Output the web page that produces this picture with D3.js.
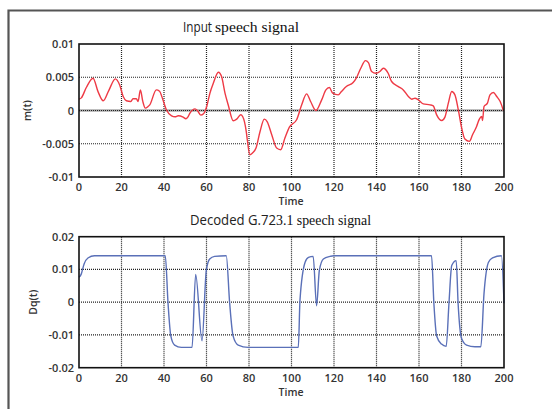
<!DOCTYPE html>
<html>
<head>
<meta charset="utf-8">
<script src="https://cdn.jsdelivr.net/npm/d3@7"></script>
<style>
  body { margin: 0; background: #fff; }
  svg { display: block; }
  .tick-label { font-family: "Open Sans", sans-serif; font-size: 11px; font-weight: 600; fill: #333; }
  .axis-title { font-family: "Open Sans", sans-serif; font-size: 10.5px; font-weight: 600; fill: #333; }
</style>
</head>
<body>
<div id="chart"></div>
<script>
// values (signal values in units of 1e-3)
const inputTime = [0, 1.1, 3.5, 6.6, 9, 11.4, 14, 17.1, 19.1, 20.8, 22.3, 24.4, 25.4, 27, 27.8, 28.9, 30, 31.2, 32.5, 33.3,
  36.4, 37.9, 39.5, 41.1, 43.6, 45.2, 46.7, 49, 50.3, 51.2, 52.2, 54.6, 55.7, 57.3, 58.6, 60.1, 61.6, 63.2, 65.6, 67.1,
  68.7, 70.2, 72.6, 74.2, 76.1, 77, 78.7, 79.2, 80.4, 81.6, 83.3, 85.2, 87.2, 88.6, 90.7, 93, 94.9, 96.9, 99, 102.4,
  104.8, 107.1, 109, 111.5, 114.2, 116.2, 117.8, 119.4, 122, 123.5, 125.8, 129, 130.5, 132.6, 134.8, 136.2, 137.7, 139.7, 141.6, 143.2,
  145.5, 147.1, 150.3, 152.6, 155, 156.6, 158.1, 159.7, 162, 165.2, 166.7, 168.3, 170.7, 172.2, 173.8, 175.4, 176.9, 178.5, 180.1, 181.6,
  183.7, 185.2, 187.1, 188.4, 189.5, 189.9, 190.6, 192.2, 193.4, 195, 196.6, 198.2, 199.7]
const inputValue = [1.7, 1.9, 3.5, 4.86, 2.8, 1.46, 3.0, 4.76, 3.86, 2.1, 1.46, 1.36, 1.76, 1.76, 1.36, 3.1, 1.4, 0.36, 0.6, 0.85,
  3.1, 2.9, 1.6, 0.1, -0.8, -0.95, -0.8, -1.0, -1.25, -1.0, -0.4, 0.25, 0, -0.7, -0.5, 0.6, 2.6, 4.1, 5.76, 5.1,
  2.6, 0.86, -1.55, -1.3, -0.65, -0.9, -3.15, -4.4, -6.65, -6.4, -5.65, -3.15, -1.3, -1.7, -3.65, -5.65, -5.9, -4.15, -2.5, -1.4,
  0.86, 2.5, 1.35, 0, 1.6, 3.1, 3.45, 2.6, 2.35, 2.85, 3.6, 4.2, 4.86, 6.36, 7.5, 7.2, 5.86, 5.6, 5.86, 6.36,
  5.6, 4.36, 3.6, 3.1, 2.1, 1.7, 1.85, 1.6, 1.0, 0.85, 0.7, -0.65, -1.5, -1.0, 1.1, 2.85, 2.35, 0.1, -2.65, -4.3,
  -4.65, -3.65, -2.4, -1.3, -0.9, -1.5, 0.6, 1.1, 2.35, 2.7, 2.1, 1.35, 0]

const decodedTime = [0, 1, 2.4, 4.2, 7.3, 40.6, 41.9, 43.2, 45, 48.2, 53.2, 54.9, 57.9, 59.9, 61.5, 63.8, 69.3, 70.9, 72.5, 74.9,
  79.6, 103.2, 104, 106.4, 108, 110.2, 111.8, 113.1, 115, 118.2, 119.8, 165.9, 167, 168.3, 170.6, 172.8, 174.1, 175.4, 177.5, 178.4,
  180, 182.4, 186.3, 189.1, 190.6, 192.7, 194.6, 198.8, 200]
const decodedValue = [7.6, 8.5, 11.7, 13.5, 14.2, 14.2, -0.3, -10.3, -13.1, -13.8, -13.8, 8.5, -11.8, 9.7, 13.2, 14, 14.2, -0.3, -10.3, -13.1,
  -13.8, -13.8, 0.7, 12.2, 13.7, 14, -1.1, 9.7, 13.2, 14, 14.2, 14.2, -0.3, -10.3, -12.8, -13.5, -0.3, 11.2, 12.7, -0.3,
  -11, -13.1, -13.6, -13.6, 2.7, 12.2, 13.5, 14.2, -0.3]

const xTicks = [0, 20, 40, 60, 80, 100, 120, 140, 160, 180, 200]
const inputTicks = [-0.01, -0.005, 0, 0.005, 0.01]
const decodedTicks = [-0.02, -0.01, 0, 0.01, 0.02]

const W = 552, H = 409

const svg = d3.select('#chart').append('svg')
  .attr('width', W)
  .attr('height', H)

// outer frame (left and top edges visible)
svg.append('path')
  .attr('d', 'M8.5,' + H + ' L8.5,10.5 L' + W + ',10.5')
  .attr('fill', 'none')
  .attr('stroke', '#555')
  .attr('stroke-width', 2.2)

const panel = (opts) => {
  const x = d3.scaleLinear().domain([0, 200]).range([79, 504])
  const y = d3.scaleLinear().domain(opts.domain).range([opts.bottom, opts.top])
  const g = svg.append('g')

  // grid
  if (opts.grayZero) {
    g.append('line')
      .attr('x1', x(0)).attr('x2', x(200))
      .attr('y1', y(0)).attr('y2', y(0))
      .attr('stroke', '#aaa').attr('stroke-width', 2.5)
  }
  g.selectAll('.vgrid').data(xTicks.slice(1, -1)).enter()
    .append('line').classed('vgrid', true)
    .attr('x1', d => x(d)).attr('x2', d => x(d))
    .attr('y1', opts.top).attr('y2', opts.bottom)
    .attr('stroke', '#222').attr('stroke-width', 1.2)
    .attr('stroke-dasharray', '1,1')
  g.selectAll('.hgrid').data(opts.ticks.slice(1, -1)).enter()
    .append('line').classed('hgrid', true)
    .attr('x1', x(0)).attr('x2', x(200))
    .attr('y1', d => y(d)).attr('y2', d => y(d))
    .attr('stroke', '#222').attr('stroke-width', 1.2)
    .attr('stroke-dasharray', '1,1')

  // signal
  const line = d3.line()
    .x(d => x(d[0]))
    .y(d => y(d[1] / 1000))
    .curve(d3.curveMonotoneX)
  g.append('path')
    .datum(opts.t.map((t, i) => [t, opts.v[i]]))
    .attr('d', line)
    .attr('fill', 'none')
    .attr('stroke', opts.color)
    .attr('stroke-width', 1.4)
    .attr('stroke-linejoin', 'round')

  // box
  g.append('rect')
    .attr('x', x(0)).attr('y', opts.top)
    .attr('width', x(200) - x(0)).attr('height', opts.bottom - opts.top)
    .attr('fill', 'none').attr('stroke', '#111').attr('stroke-width', 1.6)

  // tick labels
  g.selectAll('.xl').data(xTicks).enter()
    .append('text').classed('tick-label', true)
    .attr('x', d => x(d)).attr('y', opts.bottom + 14)
    .attr('text-anchor', 'middle')
    .text(d => d)
  g.selectAll('.yl').data(opts.ticks).enter()
    .append('text').classed('tick-label', true)
    .attr('x', 74).attr('y', d => y(d) + 4)
    .attr('text-anchor', 'end')
    .text(d => d)

  g.append('text').classed('axis-title', true)
    .attr('x', 291).attr('y', opts.bottom + 28)
    .attr('text-anchor', 'middle')
    .text('Time')
  g.append('text').classed('axis-title', true)
    .attr('transform', 'translate(' + opts.ylabelX + ',' + ((opts.top + opts.bottom) / 2) + ') rotate(-90)')
    .attr('text-anchor', 'middle')
    .text(opts.ylabel)

  // title in two fonts
  opts.title.forEach(p => {
    g.append('text')
      .attr('x', p.x).attr('y', opts.titleY)
      .attr('textLength', p.w).attr('lengthAdjust', 'spacingAndGlyphs')
      .style('font-family', p.serif ? '"Liberation Serif", "DejaVu Serif", serif' : '"Open Sans", sans-serif')
      .style('font-size', '14.5px')
      .style('fill', p.serif ? '#111' : '#222')
      .text(p.text)
  })
}

panel({
  top: 44, bottom: 177, domain: [-0.01, 0.01], ticks: inputTicks,
  t: inputTime, v: inputValue, color: '#ee3a45', grayZero: true,
  ylabel: 'm(t)', ylabelX: 31, titleY: 32,
  title: [{ text: 'Input', x: 183, w: 29 }, { text: 'speech signal', x: 215, w: 84, serif: true }]
})

panel({
  top: 236.7, bottom: 367.7, domain: [-0.02, 0.02], ticks: decodedTicks,
  t: decodedTime, v: decodedValue, color: '#5a70b8', grayZero: false,
  ylabel: 'Dq(t)', ylabelX: 37, titleY: 225,
  title: [{ text: 'Decoded G.72', x: 190, w: 86 }, { text: '3.1 speech signal', x: 276, w: 95, serif: true }]
})
</script>
</body>
</html>
